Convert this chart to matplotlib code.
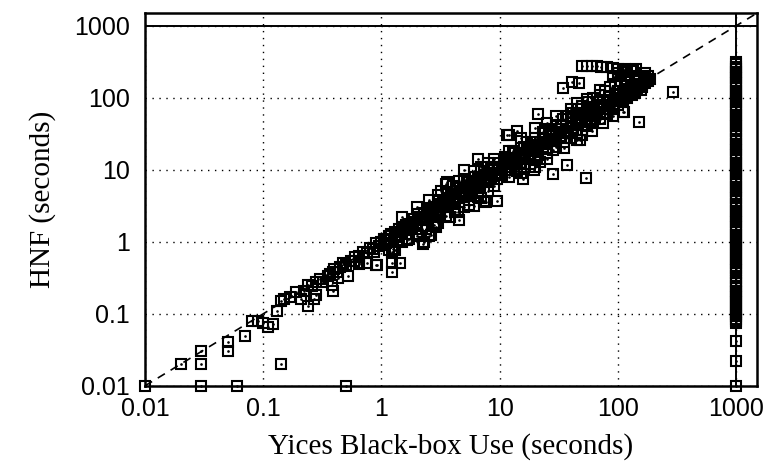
import numpy as np
import matplotlib.pyplot as plt
from matplotlib.ticker import NullLocator

# tick values / labels
ticks = [0.01, 0.1, 1, 10, 100, 1000]
tick_labels = ['0.01', '0.1', '1', '10', '100', '1000']
timeout = 1000

# points at the bottom edge (HNF = 0.01)
floor_pts = [(0.01, 0.01), (0.03, 0.01), (0.06, 0.01), (0.5, 0.01)]

# small instances, below 1 s
low_pts = [(0.02, 0.02), (0.03, 0.02), (0.03, 0.03), (0.05, 0.04), (0.05, 0.03),
           (0.07, 0.05), (0.08, 0.08), (0.09, 0.08), (0.1, 0.075), (0.11, 0.065),
           (0.12, 0.072), (0.13, 0.11), (0.14, 0.15), (0.15, 0.16), (0.14, 0.02),
           (0.21, 0.16), (0.24, 0.13), (0.27, 0.16), (0.28, 0.18), (0.28, 0.28),
           (0.32, 0.28), (0.38, 0.25), (0.39, 0.38), (0.39, 0.21), (0.43, 0.31),
           (0.52, 0.34), (0.55, 0.55), (0.64, 0.5), (0.75, 0.5), (0.89, 0.47),
           (0.86, 0.73), (0.92, 0.47), (0.64, 0.49), (0.17, 0.17), (0.19, 0.2),
           (0.22, 0.21), (0.24, 0.25), (0.26, 0.24), (0.3, 0.3), (0.35, 0.33),
           (0.37, 0.36), (0.4, 0.42), (0.42, 0.38), (0.45, 0.44), (0.47, 0.5),
           (0.5, 0.48), (0.58, 0.55), (0.6, 0.62), (0.65, 0.63), (0.7, 0.72),
           (0.75, 0.7), (0.8, 0.82), (0.85, 0.8), (0.9, 0.95), (0.95, 0.88)]

# 1 .. 10 s
mid_pts = [(1.0, 1.0), (1.04, 0.89), (1.05, 1.1), (1.1, 1.05), (1.15, 1.2), (1.2, 1.1),
           (1.23, 0.72), (1.23, 0.5), (1.44, 0.5), (1.23, 0.38), (1.15, 0.76), (1.3, 0.76),
           (1.3, 1.35), (1.35, 1.25), (1.4, 1.5), (1.5, 1.4), (1.55, 1.6), (1.6, 1.3),
           (1.65, 1.05), (1.7, 1.75), (1.8, 1.6), (1.85, 1.9), (1.9, 2.1), (2.0, 1.8),
           (2.1, 2.2), (2.2, 2.0), (2.2, 1.5), (2.26, 0.94), (2.3, 1.0), (2.3, 2.5),
           (2.4, 2.2), (2.5, 2.7), (2.5, 1.2), (2.6, 1.23), (2.6, 2.4), (2.7, 2.3),
           (2.8, 3.0), (2.9, 2.7), (2.9, 1.6), (3.0, 3.3), (3.1, 2.8), (3.2, 3.0),
           (3.4, 3.6), (3.5, 3.2), (3.6, 4.0), (3.6, 6.8), (3.8, 3.5), (4.0, 4.2),
           (4.1, 3.8), (4.3, 4.6), (4.4, 2.6), (4.5, 2.0), (4.5, 4.0), (4.7, 5.0),
           (4.9, 4.5), (5.0, 5.5), (5.0, 10), (5.2, 4.8), (5.4, 6.0), (5.6, 5.2),
           (5.8, 6.5), (6.0, 5.5), (6.0, 3.1), (6.2, 7.0), (6.4, 6.0), (6.6, 7.5),
           (6.6, 14), (6.8, 6.3), (7.0, 8.0), (7.3, 6.8), (7.3, 3.7), (7.6, 8.5),
           (7.6, 3.6), (7.9, 7.2), (8.2, 9.0), (8.5, 7.8), (8.8, 9.8), (9.2, 8.5),
           (9.5, 3.7), (9.6, 10.5), (10, 9.0), (1.25, 0.8), (1.7, 1.1), (2.0, 1.3),
           (2.4, 1.5), (3.0, 1.8), (3.5, 2.3), (4.2, 2.6), (5.0, 3.0), (5.5, 3.8),
           (6.5, 4.2), (8.0, 5.0), (9.0, 6.0), (3.0, 4.5), (4.0, 6.0), (5.0, 7.5),
           (6.0, 9.5), (7.0, 11.0), (8.0, 12.5), (9.0, 14.0), (3.5, 6.3),
           (1.1, 0.95), (1.2, 1.3), (1.3, 1.15), (1.45, 1.35), (1.6, 1.7), (1.75, 1.5),
           (1.95, 1.7), (2.05, 2.4), (2.3, 2.0), (2.45, 2.9), (2.75, 2.6), (3.0, 2.5),
           (3.3, 3.8), (3.6, 3.0), (3.9, 4.6), (4.2, 3.4), (4.6, 5.6), (5.0, 4.2),
           (5.3, 6.8), (5.8, 4.8), (6.2, 8.0), (6.8, 5.6), (7.3, 9.5), (8.0, 6.8),
           (8.6, 11), (9.4, 7.5), (9.8, 12.5),
           (1.5, 2.2), (2.0, 3.0), (2.5, 3.8), (3.2, 5.0), (4.5, 7.0),
           (1.5, 1.0), (2.0, 1.2), (2.8, 1.7), (3.8, 2.2), (5.5, 3.2), (7.0, 4.0)]

# 10 .. 300 s
high_pts = [(10.5, 11), (11, 10), (11.5, 12.5), (12, 11), (12.5, 13.5), (13, 12),
            (13.5, 14.5), (14, 12.5), (14.5, 16), (15, 14), (16, 17), (16.5, 15),
            (17, 19), (18, 16), (18.5, 21), (19, 18), (20, 22), (21, 19), (22, 24),
            (23, 21), (24, 27), (25, 23), (26, 29), (27, 25), (28, 31), (29, 27),
            (30, 33), (32, 29), (33, 37), (35, 32), (36, 40), (38, 35), (40, 44),
            (42, 38), (44, 48), (46, 42), (48, 53), (50, 46), (52, 57), (55, 50),
            (57, 62), (60, 55), (62, 68), (65, 60), (68, 74), (70, 64), (73, 80),
            (76, 70), (80, 88), (83, 76), (86, 94), (90, 82), (94, 100), (98, 90),
            (102, 108), (106, 98), (110, 115), (115, 105), (120, 125), (125, 115),
            (130, 135), (135, 125), (140, 145), (145, 135), (150, 155), (160, 150),
            (165, 165), (170, 160), (175, 175), (180, 170),
            (12, 8), (14, 9.5), (16, 11), (18, 12), (20, 14), (22, 13), (25, 17),
            (28, 19), (30, 21), (35, 24), (40, 28), (45, 32), (50, 36), (55, 40),
            (60, 45), (70, 50), (80, 60), (90, 70), (100, 80), (110, 90), (120, 100),
            (140, 115), (160, 140),
            (11, 15), (13, 18), (15, 20), (17, 24), (20, 28), (23, 33), (26, 37),
            (30, 42), (34, 50), (38, 56), (42, 62), (46, 70), (50, 78), (56, 88),
            (62, 98), (70, 110), (78, 125), (86, 140), (95, 155), (105, 170),
            (115, 185), (125, 200), (100, 220), (110, 240), (90, 200), (120, 230),
            (12, 30), (12, 18), (11.6, 30), (14, 35), (21, 59), (15.6, 7.5),
            (19.4, 9.8), (28, 8.7), (37, 11.7), (54, 7.7), (48, 26), (50, 30),
            (50, 275), (55, 275), (60, 275), (66, 275), (72, 270), (80, 265),
            (90, 255), (100, 250), (115, 250), (128, 245), (34, 138), (41, 164),
            (47, 158), (110, 64), (113, 63), (151, 46), (290, 120), (142, 247),
            (135, 234), (170, 220), (179, 200),
            (10.5, 8.5), (11.5, 14), (12.5, 10), (13.5, 17), (15, 12), (16, 21),
            (17.5, 14), (19, 24), (21, 16), (23, 28), (25, 20), (27, 34), (30, 25),
            (33, 42), (36, 28), (40, 52), (44, 36), (48, 60), (53, 42), (58, 74),
            (64, 50), (70, 88), (77, 62), (84, 105), (92, 75), (100, 125), (110, 95),
            (120, 150), (130, 110), (145, 170), (155, 130), (170, 190), (185, 185),
            (15, 28), (20, 38), (25, 45), (30, 55), (40, 70), (45, 85), (55, 95),
            (70, 130), (15, 9), (20, 11), (25, 14), (35, 20), (45, 26), (60, 35),
            (75, 45), (90, 55)]

# Yices timeouts (x = 1000)
timeout_y = [0.01, 0.022, 0.042, 0.075, 0.08, 0.086, 0.092, 0.1, 0.107, 0.115, 0.125,
             0.135, 0.145, 0.155, 0.17, 0.18, 0.2, 0.21, 0.23, 0.245, 0.265, 0.29,
             0.31, 0.34, 0.37, 0.4, 0.43, 0.46, 0.5, 0.54, 0.58, 0.63, 0.68, 0.74,
             0.8, 0.86, 0.93, 1.0, 1.08, 1.17, 1.26, 1.36, 1.47, 1.6, 1.72, 1.86, 2.0,
             2.15, 2.3, 2.5, 2.7, 2.9, 3.15, 3.4, 3.7, 4.0, 4.3, 4.6, 5.0, 5.4, 5.8,
             6.3, 6.8, 7.4, 8.0, 8.6, 9.3, 10, 10.8, 11.7, 12.6, 13.6, 14.7, 16, 17.2,
             18.6, 20, 21.5, 23, 25, 27, 29, 31.5, 34, 37, 40, 43, 46, 50, 54, 58, 63,
             68, 74, 80, 86, 93, 100, 108, 117, 126, 136, 147, 160, 172, 186, 200,
             215, 230, 250, 270, 290, 310]

pts = np.array(floor_pts + low_pts + mid_pts + high_pts, dtype=float)
xs = np.concatenate([pts[:, 0], np.full(len(timeout_y), timeout)])
ys = np.concatenate([pts[:, 1], timeout_y])

fig = plt.figure(figsize=(7.71, 4.66), dpi=100)
ax = fig.add_axes([0.188, 0.172, 0.794, 0.800])
ax.set_xscale('log')
ax.set_yscale('log')
ax.set_xlim(0.01, 1500)
ax.set_ylim(0.01, 1500)

ax.grid(True, which='major', color='black', linestyle=(0, (1, 4)), linewidth=1.0)
ax.axhline(timeout, color='black', lw=1.4, zorder=2)
ax.axvline(timeout, color='black', lw=1.4, zorder=2)
ax.plot([0.01, 1500], [0.01, 1500], color='black', lw=1.2, dashes=(5, 4), zorder=2)

ax.plot(xs, ys, 's', ms=6.5, mfc='none', mec='black', mew=1.5, clip_on=False, zorder=3)
ax.plot(xs, ys, '.', ms=1.8, color='black', clip_on=False, zorder=4)

ax.set_xticks(ticks)
ax.set_xticklabels(tick_labels)
ax.set_yticks(ticks)
ax.set_yticklabels(tick_labels)
ax.xaxis.set_minor_locator(NullLocator())
ax.yaxis.set_minor_locator(NullLocator())
ax.tick_params(length=0, labelsize=18)
ax.tick_params(axis='x', pad=8)
ax.tick_params(axis='y', pad=11)
for lab in ax.get_xticklabels() + ax.get_yticklabels():
    lab.set_family('Liberation Sans')

for s in ax.spines.values():
    s.set_linewidth(1.8)

ax.set_xlabel('Yices Black-box Use (seconds)', family='Liberation Serif', fontsize=21, labelpad=9)
ax.set_ylabel('HNF (seconds)', family='Liberation Serif', fontsize=21, labelpad=13)

fig.savefig('out.png', dpi=100)
